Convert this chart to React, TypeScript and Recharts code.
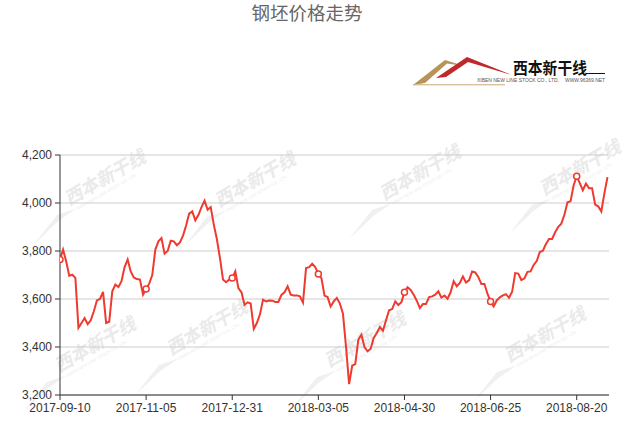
import React from 'react';
import { LineChart, Line, XAxis, YAxis, CartesianGrid } from 'recharts';

const chartTitle = '钢坯价格走势';
const tickLabels = ['2017-09-10', '2017-11-05', '2017-12-31', '2018-03-05', '2018-04-30', '2018-06-25', '2018-08-20'];
const tickDays = [0, 56, 112, 168, 224, 280, 336];
const yTicks = [3200, 3400, 3600, 3800, 4000, 4200];
const lastDay = 357;

// price every 2nd trading day
const prices = [
  3765, 3806, 3757, 3697, 3701, 3688, 3480, 3500, 3521, 3495,
  3511, 3549, 3594, 3600, 3630, 3500, 3505, 3632, 3660, 3650,
  3674, 3733, 3765, 3715, 3690, 3683, 3681, 3618, 3642, 3664,
  3700, 3806, 3840, 3854, 3789, 3800, 3843, 3840, 3824, 3836,
  3864, 3906, 3956, 3965, 3928, 3950, 3983, 4010, 3972, 3983,
  3910, 3850, 3771, 3681, 3670, 3681, 3687, 3715, 3645, 3628,
  3575, 3586, 3581, 3475, 3500, 3535, 3597, 3590, 3594, 3593,
  3588, 3588, 3617, 3628, 3653, 3618, 3615, 3615, 3611, 3585,
  3729, 3733, 3747, 3733, 3704, 3687, 3614, 3608, 3569, 3590,
  3604, 3581, 3539, 3400, 3245, 3322, 3329, 3431, 3451, 3400,
  3382, 3393, 3438, 3458, 3483, 3468, 3511, 3553, 3558, 3590,
  3575, 3587, 3628, 3649, 3638, 3618, 3593, 3562, 3579, 3579,
  3608, 3611, 3618, 3632, 3606, 3614, 3601, 3628, 3674, 3653,
  3667, 3694, 3669, 3678, 3715, 3711, 3692, 3663, 3663, 3621,
  3590, 3569, 3594, 3607, 3615, 3620, 3605, 3630, 3708, 3706,
  3679, 3686, 3713, 3715, 3742, 3758, 3796, 3801, 3829, 3850,
  3850, 3878, 3901, 3914, 3951, 4003, 4007, 4074, 4111, 4083,
  4053, 4081, 4061, 4061, 3993, 3986, 3965, 4040, 4108,
];

const data = prices.map((v, k) => ({ day: k * 2, price: v }));

const LINE_COLOR = '#ee3a2f';
const FONT = '"Liberation Sans", Arial, sans-serif';
const CJK = '"Noto Sans CJK SC", sans-serif';
const brandName = '西本新干线';
const brandSub = 'XIBEN NEW LINE STOCK CO., LTD.';
const brandWeb = 'WWW.96369.NET';

// faint watermark stamps: [centerX, centerY]
const watermarkSpots = [
  [105, 178], [255, 180], [420, 173], [580, 168],
  [95, 345], [207, 328], [365, 340], [545, 335],
];

const MarkerDot = (props: any) => {
  const { cx, cy, payload, index } = props;
  if (!tickDays.includes(payload.day)) return <g key={`d-${index}`} />;
  return <circle key={`d-${index}`} cx={cx} cy={cy} r={3} fill="#fff" stroke={LINE_COLOR} strokeWidth={1.5} />;
};

const Watermarks = () => (
  <svg width={626} height={425} style={{ position: 'absolute', left: 0, top: 0 }}>
    {watermarkSpots.map(([x, y], i) => (
      <g key={i} transform={`translate(${x},${y}) rotate(-30)`} opacity={0.9}>
        <text x={0} y={6} textAnchor="middle" fontSize={18} fontWeight={700} fontStyle="italic" fill="#e8e8e8" fontFamily={CJK}>
          {brandName}
        </text>
        <text x={-40} y={14} fontSize={4} fill="#ececec" fontFamily={FONT} textLength={70} lengthAdjust="spacingAndGlyphs">
          {brandSub}
        </text>
        <path d="M-95,22 L-60,8 L-40,12 L-62,14 Z" fill="#efefef" />
      </g>
    ))}
  </svg>
);

const Header = () => (
  <svg width={626} height={100} style={{ position: 'absolute', left: 0, top: 0 }}>
    <text x={307} y={20} textAnchor="middle" fontSize={18.5} fill="#666" fontFamily={CJK}>
      {chartTitle}
    </text>
    <path d="M413,85 L445,60 L464,66 L447,63.5 L425,83 Z" fill="#b8935a" />
    <line x1={413} y1={84.8} x2={505} y2={84.8} stroke="#c9a876" strokeWidth={1} />
    <path d="M436,78 L467,57 L512,75 L468,62 L446,77 Z" fill="#c0282d" />
    <text x={513} y={74} fontSize={16} fontWeight={700} fill="#111" fontFamily={CJK} textLength={74} lengthAdjust="spacingAndGlyphs">
      {brandName}
    </text>
    <line x1={586} y1={73.5} x2={605} y2={73.5} stroke="#111" strokeWidth={1} />
    <text x={477} y={82} fontSize={4.5} fill="#555" fontFamily={FONT} textLength={82} lengthAdjust="spacingAndGlyphs">{brandSub}</text>
    <text x={565} y={82} fontSize={4.5} fill="#555" fontFamily={FONT} textLength={40} lengthAdjust="spacingAndGlyphs">{brandWeb}</text>
  </svg>
);

export default function App() {
  return (
    <div style={{ position: 'absolute', left: 0, top: 0, width: 626, height: 425, background: '#fff' }}>
      <Watermarks />
      <Header />
      <div style={{ position: 'absolute', left: 0, top: 0 }}>
        <LineChart width={626} height={425} data={data} margin={{ top: 155, right: 17, bottom: 0, left: 0 }}>
          <CartesianGrid horizontal vertical={false} stroke="#ccc" strokeDasharray="" />
          <XAxis
            dataKey="day"
            type="number"
            domain={[0, lastDay]}
            ticks={tickDays}
            tickFormatter={(d: number) => tickLabels[tickDays.indexOf(d)] ?? ''}
            height={30}
            tickSize={5}
            tickMargin={3}
            axisLine={{ stroke: '#333' }}
            tickLine={{ stroke: '#333' }}
            tick={{ fill: '#333', fontSize: 12, fontFamily: FONT }}
            interval={0}
            allowDataOverflow
          />
          <YAxis
            domain={[3200, 4200]}
            ticks={yTicks}
            width={60}
            tickSize={5}
            tickMargin={3}
            axisLine={{ stroke: '#333' }}
            tickLine={{ stroke: '#333' }}
            tick={{ fill: '#333', fontSize: 12, fontFamily: FONT }}
            tickFormatter={(v: number) => v.toLocaleString('en-US')}
            interval={0}
          />
          <Line
            type="linear"
            dataKey="price"
            stroke={LINE_COLOR}
            strokeWidth={2}
            dot={MarkerDot}
            activeDot={false}
            isAnimationActive={false}
          />
        </LineChart>
      </div>
    </div>
  );
}
